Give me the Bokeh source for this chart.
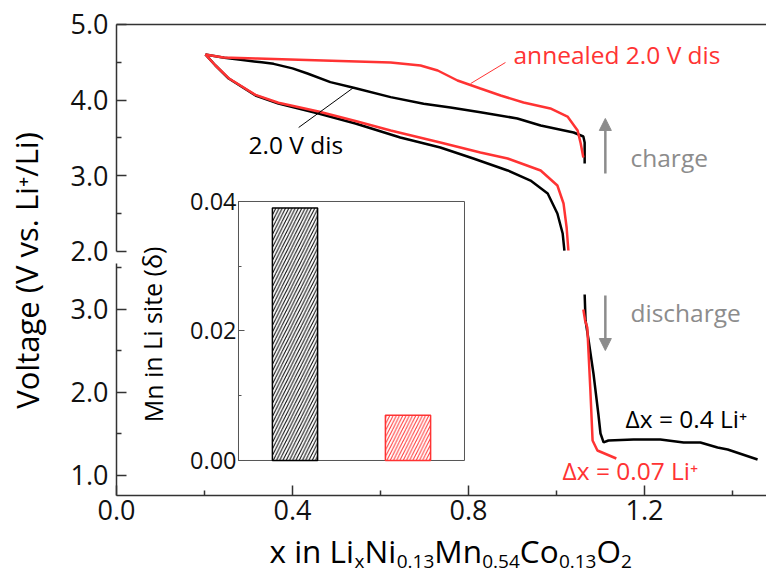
from bokeh.plotting import figure
from bokeh.models import (Range1d, LinearAxis, FixedTicker, PrintfTickFormatter, Label,
                          Arrow, NormalHead, ColumnDataSource)
from bokeh.embed import file_html
from bokeh.resources import INLINE

FONT = "Open Sans"
RED = "#ff3333"
GRAY = "#8c8c8c"
AXC = "#333333"
INSET_C = "#555555"

# ---------------- data ----------------
# upper panel (V 2.0 - 5.0): charge / discharge to 2.0 V
black_chg_x = [0.202, 0.245, 0.282, 0.330, 0.357, 0.400, 0.434, 0.486, 0.539, 0.623, 0.698, 0.759, 0.827,
               0.911, 0.964, 1.039, 1.061, 1.064, 1.064]
black_chg_v = [4.604, 4.560, 4.533, 4.500, 4.480, 4.420, 4.352, 4.238, 4.163, 4.040, 3.952, 3.903, 3.841,
               3.758, 3.665, 3.573, 3.520, 3.441, 3.163]
red_chg_x = [0.202, 0.243, 0.320, 0.470, 0.623, 0.691, 0.730, 0.775, 0.827, 0.873, 0.925, 0.986, 1.025,
             1.048, 1.055, 1.061]
red_chg_v = [4.604, 4.564, 4.551, 4.524, 4.498, 4.458, 4.392, 4.260, 4.154, 4.062, 3.969, 3.890, 3.784,
             3.599, 3.427, 3.242]
black_dis_x = [0.202, 0.225, 0.255, 0.316, 0.368, 0.459, 0.543, 0.645, 0.736, 0.811, 0.889, 0.941, 0.980,
               1.002, 1.014, 1.018]
black_dis_v = [4.604, 4.458, 4.286, 4.062, 3.956, 3.824, 3.692, 3.507, 3.375, 3.229, 3.071, 2.938, 2.767,
               2.502, 2.238, 2.013]
red_dis_x = [0.202, 0.225, 0.255, 0.316, 0.368, 0.459, 0.543, 0.623, 0.736, 0.827, 0.889, 0.964, 1.002,
             1.016, 1.023, 1.027]
red_dis_v = [4.604, 4.458, 4.290, 4.070, 3.966, 3.850, 3.725, 3.599, 3.441, 3.308, 3.229, 3.071, 2.872,
             2.634, 2.317, 2.013]
# lower panel (V ~0.76 - 3.56): discharge to 1.0 V
black_low_x = [1.064, 1.066, 1.073, 1.084, 1.095, 1.100, 1.107, 1.118, 1.175, 1.236, 1.289, 1.327, 1.366,
               1.389, 1.457]
black_low_v = [3.181, 2.867, 2.627, 2.229, 1.747, 1.506, 1.398, 1.422, 1.434, 1.434, 1.398, 1.398, 1.337,
               1.313, 1.193]
red_low_x = [1.061, 1.065, 1.070, 1.077, 1.082, 1.093, 1.136]
red_low_v = [3.000, 2.870, 2.783, 2.024, 1.422, 1.301, 1.205]

# inset bars
inset_samples = ["2.0 V dis", "annealed 2.0 V dis"]
inset_pos = [0.5, 1.5]
mn_in_li = [0.039, 0.007]
inset_colors = ["black", RED]

# ticks
x_ticks = [0.0, 0.4, 0.8, 1.2]
x_minor = [0.2, 0.6, 1.0, 1.4]
up_ticks = [2.0, 3.0, 4.0, 5.0]
up_minor = [2.5, 3.5, 4.5]
low_ticks = [1.0, 2.0, 3.0]
low_minor = [1.5, 2.5, 3.5]
inset_ticks = [0.0, 0.02, 0.04]
inset_minor = [0.01, 0.03]

X_END = 1.477273
# ---------------- figure (frame fills the canvas, axes at fixed locations) ----------------
p = figure(width=766, height=575, output_backend="svg", toolbar_location=None,
           x_range=Range1d(-0.263636, X_END), y_range=Range1d(-2.28194, 5.31718),
           x_axis_location=None, y_axis_location=None,
           min_border_left=0, min_border_right=0, min_border_top=0, min_border_bottom=0)
p.outline_line_color = None
p.grid.visible = False
p.background_fill_color = "white"
p.border_fill_color = "white"
p.extra_y_ranges = {"lower": Range1d(-0.20482, 6.72289), "iy": Range1d(-0.017761, 0.071042)}
p.extra_x_ranges = {"ix": Range1d(-2.10619, 4.67257)}


def style_axis(ax, major_in=10, minor_in=5, size="27px", color=AXC, width=1.5):
    ax.major_tick_in = major_in
    ax.major_tick_out = 0
    ax.minor_tick_in = minor_in
    ax.minor_tick_out = 0
    ax.axis_line_color = color
    ax.axis_line_width = width
    ax.major_tick_line_color = color
    ax.minor_tick_line_color = color
    ax.major_tick_line_width = width
    ax.minor_tick_line_width = width
    ax.major_label_text_font = FONT
    ax.major_label_text_font_size = size
    ax.major_label_text_color = "#111111"


xa = LinearAxis(ticker=FixedTicker(ticks=x_ticks, minor_ticks=x_minor),
                formatter=PrintfTickFormatter(format="%.1f"), major_label_standoff=5,
                fixed_location=-1.22467, bounds=(0, X_END))
style_axis(xa)
p.add_layout(xa, "below")

ta = LinearAxis(ticker=FixedTicker(ticks=[], minor_ticks=[]), major_label_text_font_size="0px",
                fixed_location=5.0, bounds=(0, X_END))
style_axis(ta, 0, 0)
p.add_layout(ta, "above")

ya = LinearAxis(ticker=FixedTicker(ticks=up_ticks, minor_ticks=up_minor),
                formatter=PrintfTickFormatter(format="%.1f"), bounds=(2.0, 5.0),
                major_label_standoff=8, fixed_location=0)
style_axis(ya)
p.add_layout(ya, "left")

yb = LinearAxis(y_range_name="lower", ticker=FixedTicker(ticks=low_ticks, minor_ticks=low_minor),
                formatter=PrintfTickFormatter(format="%.1f"), bounds=(0.759, 3.56),
                major_label_standoff=8, fixed_location=0)
style_axis(yb)
p.add_layout(yb, "left")

# curves
p.line(black_chg_x, black_chg_v, line_color="black", line_width=2.5)
p.line(black_dis_x, black_dis_v, line_color="black", line_width=2.5)
p.line(red_chg_x, red_chg_v, line_color=RED, line_width=2.5)
p.line(red_dis_x, red_dis_v, line_color=RED, line_width=2.5)
p.line(black_low_x, black_low_v, line_color="black", line_width=2.5, y_range_name="lower")
p.line(red_low_x, red_low_v, line_color=RED, line_width=2.5, y_range_name="lower")

# inset
p.quad(left=0, right=2, bottom=inset_ticks[0], top=inset_ticks[-1], x_range_name="ix", y_range_name="iy",
       fill_color="white", line_color=INSET_C, line_width=1)
src = ColumnDataSource(dict(x=inset_pos, top=mn_in_li, color=inset_colors, name=inset_samples))
p.vbar(x="x", top="top", bottom=0, width=0.4, source=src, x_range_name="ix", y_range_name="iy",
       fill_color="white", line_color="color", line_width=1.5,
       hatch_pattern="/", hatch_color="color", hatch_scale=6.5, hatch_weight=1)

ia = LinearAxis(x_range_name="ix", y_range_name="iy", fixed_location=0, bounds=(0, 0.04),
                ticker=FixedTicker(ticks=inset_ticks, minor_ticks=inset_minor),
                formatter=PrintfTickFormatter(format="%.2f"), major_label_standoff=2)
style_axis(ia, 6, 3, "23.5px", INSET_C, 1)
p.add_layout(ia, "left")

# leader lines and arrows
p.add_layout(Arrow(end=None, x_start=0.805, y_start=4.220, x_end=0.884, y_end=4.498,
                   line_color=RED, line_width=1))
p.add_layout(Arrow(end=None, x_start=0.539, y_start=4.167, x_end=0.414, y_end=3.639,
                   line_color="black", line_width=1))
p.add_layout(Arrow(end=NormalHead(size=12, fill_color=GRAY, line_color=GRAY),
                   x_start=1.111, y_start=3.031, x_end=1.111, y_end=3.758,
                   line_color=GRAY, line_width=2.5))
p.add_layout(Arrow(end=NormalHead(size=12, fill_color=GRAY, line_color=GRAY),
                   x_start=1.111, y_start=3.169, x_end=1.111, y_end=2.506, y_range_name="lower",
                   line_color=GRAY, line_width=2.5))

# page-pixel helpers for text placement (frame fills the canvas)
def px_x(px):
    return (px - 116.0) / 440.0


def px_up(py):
    return 5.0 - (py - 24.0) / 75.667


def px_low(py):
    return 3.0 - (py - 309.0) / 83.0


def lab(x, y, text, color="black", size="24.5px", yr="default", angle=0.0, align="left"):
    p.add_layout(Label(x=x, y=y, text=text, text_font=FONT, text_font_size=size, text_color=color,
                       text_baseline="alphabetic", text_align=align, y_range_name=yr, angle=angle))


DY = 9  # baseline correction (pixels)
lab(px_x(513), px_up(63 - DY), "annealed 2.0 V dis", RED)
lab(px_x(248), px_up(153 - DY), "2.0 V dis")
lab(px_x(630), px_up(166 - DY), "charge", GRAY)
lab(px_x(630), px_low(321 - DY), "discharge", GRAY, yr="lower")
lab(px_x(625), px_low(427 - DY), "\u0394x = 0.4 Li\u207a", yr="lower")
lab(px_x(562), px_low(479 - DY), "\u0394x = 0.07 Li\u207a", RED, yr="lower")

# axis titles
lab(px_x(26), px_up(270), "Voltage (V vs. Li\u207a/Li)", size="31px", angle=1.5708, align="center")
lab(px_x(152), px_up(334), "Mn in Li site (\u03b4)", size="25px", angle=1.5708, align="center")

# x-axis title with subscripts, laid out piece by piece
EM = {'x': .531, ' ': .26, 'i': .253, 'n': .614, 'L': .528, 'N': .766, 'M': .905, 'C': .635,
      'o': .604, 'O': .778, '.': .266}
MAIN, SUB = 31.5, 19.0
pieces = [("x in Li", MAIN), ("x", SUB), ("Ni", MAIN), ("0.13", SUB), ("Mn", MAIN), ("0.54", SUB),
          ("Co", MAIN), ("0.13", SUB), ("O", MAIN), ("2", SUB)]
cx = 269.0
for t, s in pieces:
    base = 559 if s == MAIN else 570
    lab(px_x(cx), px_up(base - DY), t, size=f"{s}px")
    cx += sum(EM.get(ch, .572) for ch in t) * s

open("out.html", "w").write(file_html(p, INLINE))
